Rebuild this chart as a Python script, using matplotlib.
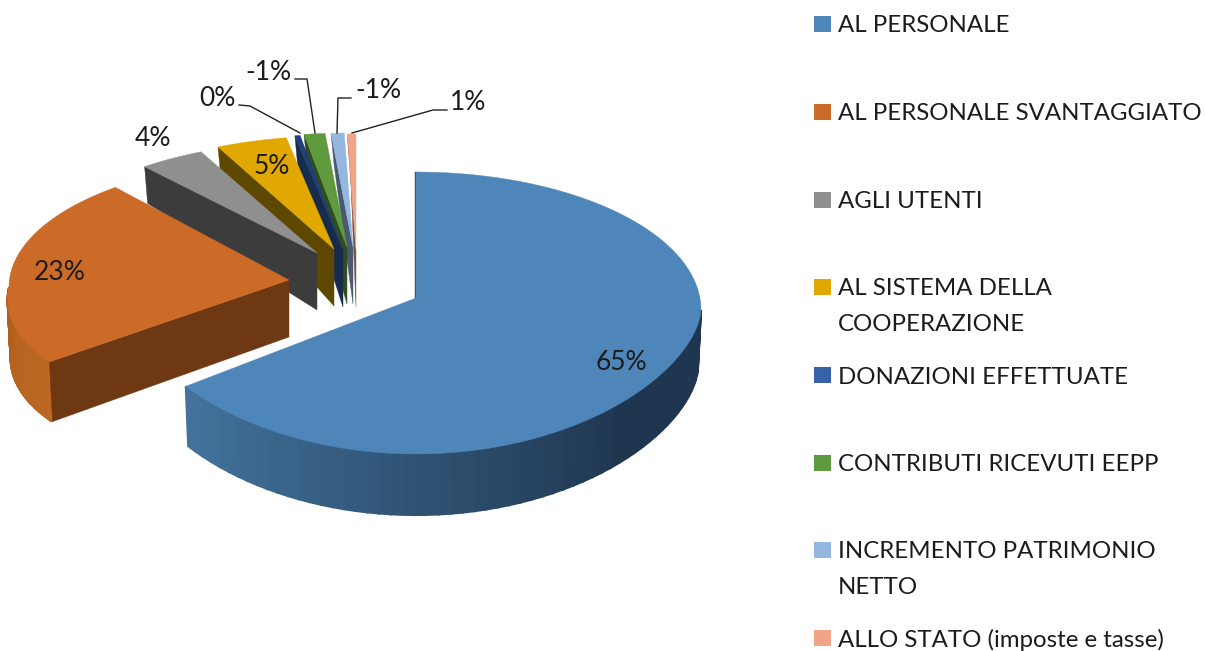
#!/usr/bin/env python
# -*- coding: utf-8 -*-
import numpy as np
import matplotlib
matplotlib.use('Agg')
import matplotlib.pyplot as plt
from matplotlib.colors import to_rgb

# data
legend_labels = ['AL PERSONALE', 'AL PERSONALE SVANTAGGIATO', 'AGLI UTENTI',
                 'AL SISTEMA DELLA\nCOOPERAZIONE', 'DONAZIONI EFFETTUATE',
                 'CONTRIBUTI RICEVUTI EEPP', 'INCREMENTO PATRIMONIO\nNETTO',
                 'ALLO STATO (imposte e tasse)']
slice_shares = [65.0, 24.4, 3.8, 4.1, 0.3, 1.2, 0.75, 0.5]
percent_labels = ['65%', '23%', '4%', '5%', '0%', '-1%', '-1%', '1%']

# style
top_colors = ['#4E86BA', '#CC6A27', '#8F8F8F', '#E0A800', '#1E3F78', '#5F9A3F', '#94B7E0', '#F0A488']
wall_colors = ['#2A4A68', '#6E3812', '#3C3C3C', '#5E4800', '#172B4D', '#2F4D20', '#4A5B70', '#7A5244']
legend_colors = ['#4E86BA', '#CC6A27', '#8F8F8F', '#E0A800', '#3762A8', '#5F9A3F', '#94B7E0', '#F0A488']

# layout in pixels: apex, ellipse centre y, semi axes (back and front), front widening
apex = [(416, 298), (289, 280), (317, 253), (334, 249), (343, 250), (347, 247), (353, 247), (356, 250)]
centre_y = [310, 287, 260, 256, 256, 255, 255, 256]
semi_a = [285, 280, 278, 278, 280, 280, 280, 280]
semi_back = [138, 127, 119, 120, 122, 122, 122, 122]
semi_front = [144, 127, 120, 120, 122, 122, 122, 122]
front_wide = [0, 0.1, 0, 0, 0, 0, 0, 0]
front_pow = [1.2, 1, 1, 1, 1, 1, 1, 1]
legend_y = [24, 111.5, 199.5, 286.5, 375, 462.5, 549.5, 637.5]
label_pos = [(621, 362), (60, 273), (153, 139), (272, 166), (217, 98), (268, 73), (378, 91), (468, 103)]
leaders = {4: [(239, 105), (250, 106), (300, 133)],
           5: [(295, 79), (307, 79), (315, 133)],
           6: [(351, 98), (338, 98), (337, 133)],
           7: [(447, 110), (433, 110), (352, 133)]}

plt.rcParams['font.family'] = ['Lato', 'DejaVu Sans']
fig = plt.figure(figsize=(12.05, 6.51), dpi=100)
ax = fig.add_axes([0, 0, 1, 1])
ax.set_xlim(0, 1205)
ax.set_ylim(651, 0)
ax.axis('off')


def rim(i, th):
    # point on the top rim of slice i, th clockwise from 12 o'clock
    c = np.cos(th)
    x = apex[i][0] + semi_a[i] * np.sin(th) * (1 + front_wide[i] * np.maximum(0, -c))
    y = np.where(c >= 0, centre_y[i] - semi_back[i] * c,
                 centre_y[i] + semi_front[i] * np.abs(c) ** front_pow[i])
    return x, y


def depth(th):
    c = np.cos(th)
    return np.where(c >= 0, 58 - 27 * c, 58 - 3 * c)


def mix(c1, c2, t):
    return tuple((1 - t) * a + t * b for a, b in zip(to_rgb(c1), to_rgb(c2)))


edges = np.radians(np.cumsum([0] + slice_shares) / sum(slice_shares) * 360)

for i in range(len(slice_shares) - 1, -1, -1):
    t0, t1 = edges[i], edges[i + 1]
    ax_, ay_ = apex[i]
    z = 20 - 2 * i
    # radial wall on the start side
    if i > 0:
        sx, sy = rim(i, t0)
        ax.fill([ax_, sx, sx + 3, ax_], [ay_, sy, sy + depth(t0), ay_ + 57],
                color=wall_colors[i], lw=0.3, zorder=z)
    # outer wall, front half only
    lo, hi = max(t0, np.pi / 2), min(t1, 1.5 * np.pi)
    if hi > lo:
        ths = np.linspace(lo, hi, 60)
        for t_a, t_b in zip(ths[:-1], ths[1:]):
            xa, ya = rim(i, t_a)
            xb, yb = rim(i, t_b)
            if i == 0:
                f = (t_a - lo) / (hi - lo)
                if f < 0.3:
                    col = '#1F3650'
                else:
                    col = mix('#1F3650', '#44759F', (f - 0.3) / 0.7)
            else:
                col = mix('#BC6822', '#B0601E', (t_a - lo) / (hi - lo))
            ax.fill([xa, xb, xb - 3 * np.sin(t_b), xa - 3 * np.sin(t_a)],
                    [ya, yb, yb + depth(t_b), ya + depth(t_a)],
                    color=col, lw=1.5, zorder=1)
    # top face
    ths = np.linspace(t0, t1, 100)
    rx, ry = rim(i, ths)
    ax.fill(np.r_[ax_, rx], np.r_[ay_, ry], color=top_colors[i], lw=0.3, zorder=z + 0.5)
    if i == 0:
        ax.plot([ax_ - 1, rx[0] - 1], [ay_, ry[0]], color=wall_colors[0], lw=1, zorder=2)

# percent labels and leader lines
for i, txt in enumerate(percent_labels):
    ax.text(label_pos[i][0], label_pos[i][1], txt, fontsize=19, color='#1C1C1C',
            ha='center', va='center', zorder=30)
for i, pts in leaders.items():
    ax.plot([p[0] for p in pts], [p[1] for p in pts], color='#222222', lw=1, zorder=29)

# legend
for i, lab in enumerate(legend_labels):
    ax.fill([814, 831, 831, 814], [legend_y[i] - 8, legend_y[i] - 8, legend_y[i] + 8, legend_y[i] + 8],
            color=legend_colors[i], lw=0)
    for j, line in enumerate(lab.split('\n')):
        ax.text(838, legend_y[i] + 2 + 36 * j, line, fontsize=17.3, color='#1C1C1C', ha='left', va='center')

fig.savefig('out.png', dpi=100)
